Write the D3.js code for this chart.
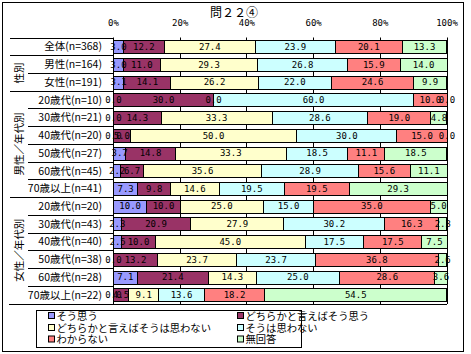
<!DOCTYPE html>
<html>
<head>
<meta charset="utf-8">
<script src="https://cdn.jsdelivr.net/npm/d3@7"></script>
<style>
  body { margin: 0; background: #fff; }
  svg text { font-family: "Noto Sans CJK JP", sans-serif; fill: #000; }
  .num { font-family: "DejaVu Sans Mono", monospace; font-size: 9px; }
</style>
</head>
<body>
<div id="chart"></div>
<script>
// 問２２④ stacked 100% bar chart

var categories = ["全体(n=368)", "男性(n=164)", "女性(n=191)",
  "20歳代(n=10)", "30歳代(n=21)", "40歳代(n=20)", "50歳代(n=27)", "60歳代(n=45)", "70歳以上(n=41)",
  "20歳代(n=20)", "30歳代(n=43)", "40歳代(n=40)", "50歳代(n=38)", "60歳代(n=28)", "70歳以上(n=22)"];
var groupNames = ["", "性別", "男性／年代別", "女性／年代別"];
var groupOf = [0, 1, 1, 2, 2, 2, 2, 2, 2, 3, 3, 3, 3, 3, 3];

var seriesNames = ["そう思う", "どちらかと言えばそう思う", "どちらかと言えばそうは思わない",
  "そうは思わない", "わからない", "無回答"];
var seriesColors = ["#9999FF", "#993366", "#FFFFCC", "#CCFFFF", "#FF8080", "#CCFFCC"];

var soOmou      = [3.0, 3.0, 3.1, 0.0, 0.0, 0.0, 3.7, 2.2, 7.3, 10.0, 2.3, 2.5, 0.0, 7.1, 0.0];
var dochiraSo   = [12.2, 11.0, 14.1, 30.0, 14.3, 5.0, 14.8, 6.7, 9.8, 10.0, 20.9, 10.0, 13.2, 21.4, 4.5];
var dochiraNot  = [27.4, 29.3, 26.2, 0.0, 33.3, 50.0, 33.3, 35.6, 14.6, 25.0, 27.9, 45.0, 23.7, 14.3, 9.1];
var soWaNot     = [23.9, 26.8, 22.0, 60.0, 28.6, 30.0, 18.5, 28.9, 19.5, 15.0, 30.2, 17.5, 23.7, 25.0, 13.6];
var wakaranai   = [20.1, 15.9, 24.6, 10.0, 19.0, 15.0, 11.1, 15.6, 19.5, 35.0, 16.3, 17.5, 36.8, 28.6, 18.2];
var mukaitou    = [13.3, 14.0, 9.9, 0.0, 4.8, 0.0, 18.5, 11.1, 29.3, 5.0, 2.3, 7.5, 2.6, 3.6, 54.5];
var valueArrays = [soOmou, dochiraSo, dochiraNot, soWaNot, wakaranai, mukaitou];

var tickValues = [0, 20, 40, 60, 80, 100];

var W = 471, H = 354;
var svg = d3.select("#chart").append("svg")
  .attr("width", W).attr("height", H);

// outer frame
svg.append("rect")
  .attr("x", 2.5).attr("y", 2.5).attr("width", 461).attr("height", 349)
  .attr("fill", "none").attr("stroke", "#000");

var table = categories.map(function (c, i) {
  var row = { cat: c };
  seriesNames.forEach(function (s, j) { row[s] = valueArrays[j][i]; });
  return row;
});
var stacked = d3.stack().keys(seriesNames)(table);

var x = d3.scaleLinear().domain([0, 100]).range([113, 446.5]);
var y = d3.scaleBand().domain(categories).range([37.5, 303.5])
  .paddingInner(0.294).paddingOuter(0.147);

// title
svg.append("text")
  .attr("x", 234).attr("y", 17)
  .attr("text-anchor", "middle")
  .attr("font-size", "12px")
  .text("問２２④");

// x tick labels
svg.append("g")
  .attr("transform", "translate(0,29)")
  .call(d3.axisTop(x).tickValues(tickValues).tickSize(0).tickFormat(function (d) { return d + "%"; }))
  .call(function (g) {
    g.select(".domain").remove();
    g.selectAll("text").attr("class", "num").attr("font-size", null).attr("font-family", null).attr("dy", 0);
  });

// gridlines
svg.append("g").selectAll("line")
  .data(tickValues.slice(1))
  .enter().append("line")
  .attr("x1", function (d) { return Math.round(x(d)) + 0.5; })
  .attr("x2", function (d) { return Math.round(x(d)) + 0.5; })
  .attr("y1", 37.5).attr("y2", 304)
  .attr("stroke", "#000");

// bars
var layer = svg.append("g").selectAll("g")
  .data(stacked)
  .enter().append("g")
  .attr("fill", function (d, i) { return seriesColors[i]; });

layer.selectAll("rect")
  .data(function (d) { return d; })
  .enter().append("rect")
  .attr("x", function (d) { return Math.round(x(d[0])) + 0.5; })
  .attr("y", function (d) { return Math.round(y(d.data.cat)) + 0.5; })
  .attr("width", function (d) { return Math.max(0, Math.round(x(d[1])) - Math.round(x(d[0]))); })
  .attr("height", Math.round(y.bandwidth()))
  .attr("stroke", "#000")
  .attr("stroke-width", 1);

// value labels
var labels = svg.append("g");
stacked.forEach(function (s) {
  labels.selectAll(null)
    .data(s)
    .enter().append("text")
    .attr("class", "num")
    .attr("x", function (d) { return (x(d[0]) + x(d[1])) / 2 + 0.5; })
    .attr("y", function (d) { return y(d.data.cat) + y.bandwidth() / 2 + 3.5; })
    .attr("text-anchor", "middle")
    .text(function (d) { return (d[1] - d[0]).toFixed(1); });
});

// axis line
svg.append("line")
  .attr("x1", 113.5).attr("x2", 113.5).attr("y1", 37.5).attr("y2", 304)
  .attr("stroke", "#000");

// label-area separators
var step = y.step(), gap = step - y.bandwidth();
var seps = [{ yy: 38, from: 10 }];
categories.forEach(function (c, i) {
  if (i < categories.length - 1) {
    seps.push({ yy: y(c) + y.bandwidth() + gap / 2, from: groupOf[i] !== groupOf[i + 1] ? 10 : 28 });
  }
});
svg.append("g").selectAll("line")
  .data(seps)
  .enter().append("line")
  .attr("x1", function (d) { return d.from; })
  .attr("x2", 113)
  .attr("y1", function (d) { return Math.round(d.yy) + 0.5; })
  .attr("y2", function (d) { return Math.round(d.yy) + 0.5; })
  .attr("stroke", "#000");

svg.append("line")
  .attr("x1", 9).attr("x2", 447).attr("y1", 304.5).attr("y2", 304.5)
  .attr("stroke", "#000");

// category labels
svg.append("g").selectAll("text")
  .data(categories)
  .enter().append("text")
  .attr("x", 102)
  .attr("y", function (d) { return y(d) + y.bandwidth() / 2 + 4; })
  .attr("text-anchor", "end")
  .attr("font-size", "10.5px")
  .text(function (d) { return d; });

// group labels (rotated)
groupNames.forEach(function (g, gi) {
  if (!g) return;
  var idx = groupOf.map(function (v, i) { return v === gi ? i : -1; }).filter(function (i) { return i >= 0; });
  var top = y(categories[idx[0]]) - gap / 2;
  var bot = y(categories[idx[idx.length - 1]]) + y.bandwidth() + gap / 2;
  var cy = (top + bot) / 2;
  svg.append("text")
    .attr("transform", "translate(23," + cy + ") rotate(-90)")
    .attr("text-anchor", "middle")
    .attr("font-size", "10.5px")
    .text(g);
});

// legend
svg.append("rect")
  .attr("x", 36.5).attr("y", 310.5).attr("width", 265).attr("height", 37)
  .attr("fill", "#fff").attr("stroke", "#000");

var legendPos = [[48, 315], [237, 315], [48, 327], [237, 327], [48, 338.5], [237, 338.5]];
var leg = svg.append("g").selectAll("g")
  .data(seriesNames)
  .enter().append("g")
  .attr("transform", function (d, i) { return "translate(" + legendPos[i][0] + "," + legendPos[i][1] + ")"; });
leg.append("rect")
  .attr("x", 0.5).attr("y", -2.5).attr("width", 6).attr("height", 6)
  .attr("fill", function (d, i) { return seriesColors[i]; })
  .attr("stroke", "#000");
leg.append("text")
  .attr("x", 8.5).attr("y", 4.5)
  .attr("font-size", "10.3px")
  .text(function (d) { return d; });
</script>
</body>
</html>
